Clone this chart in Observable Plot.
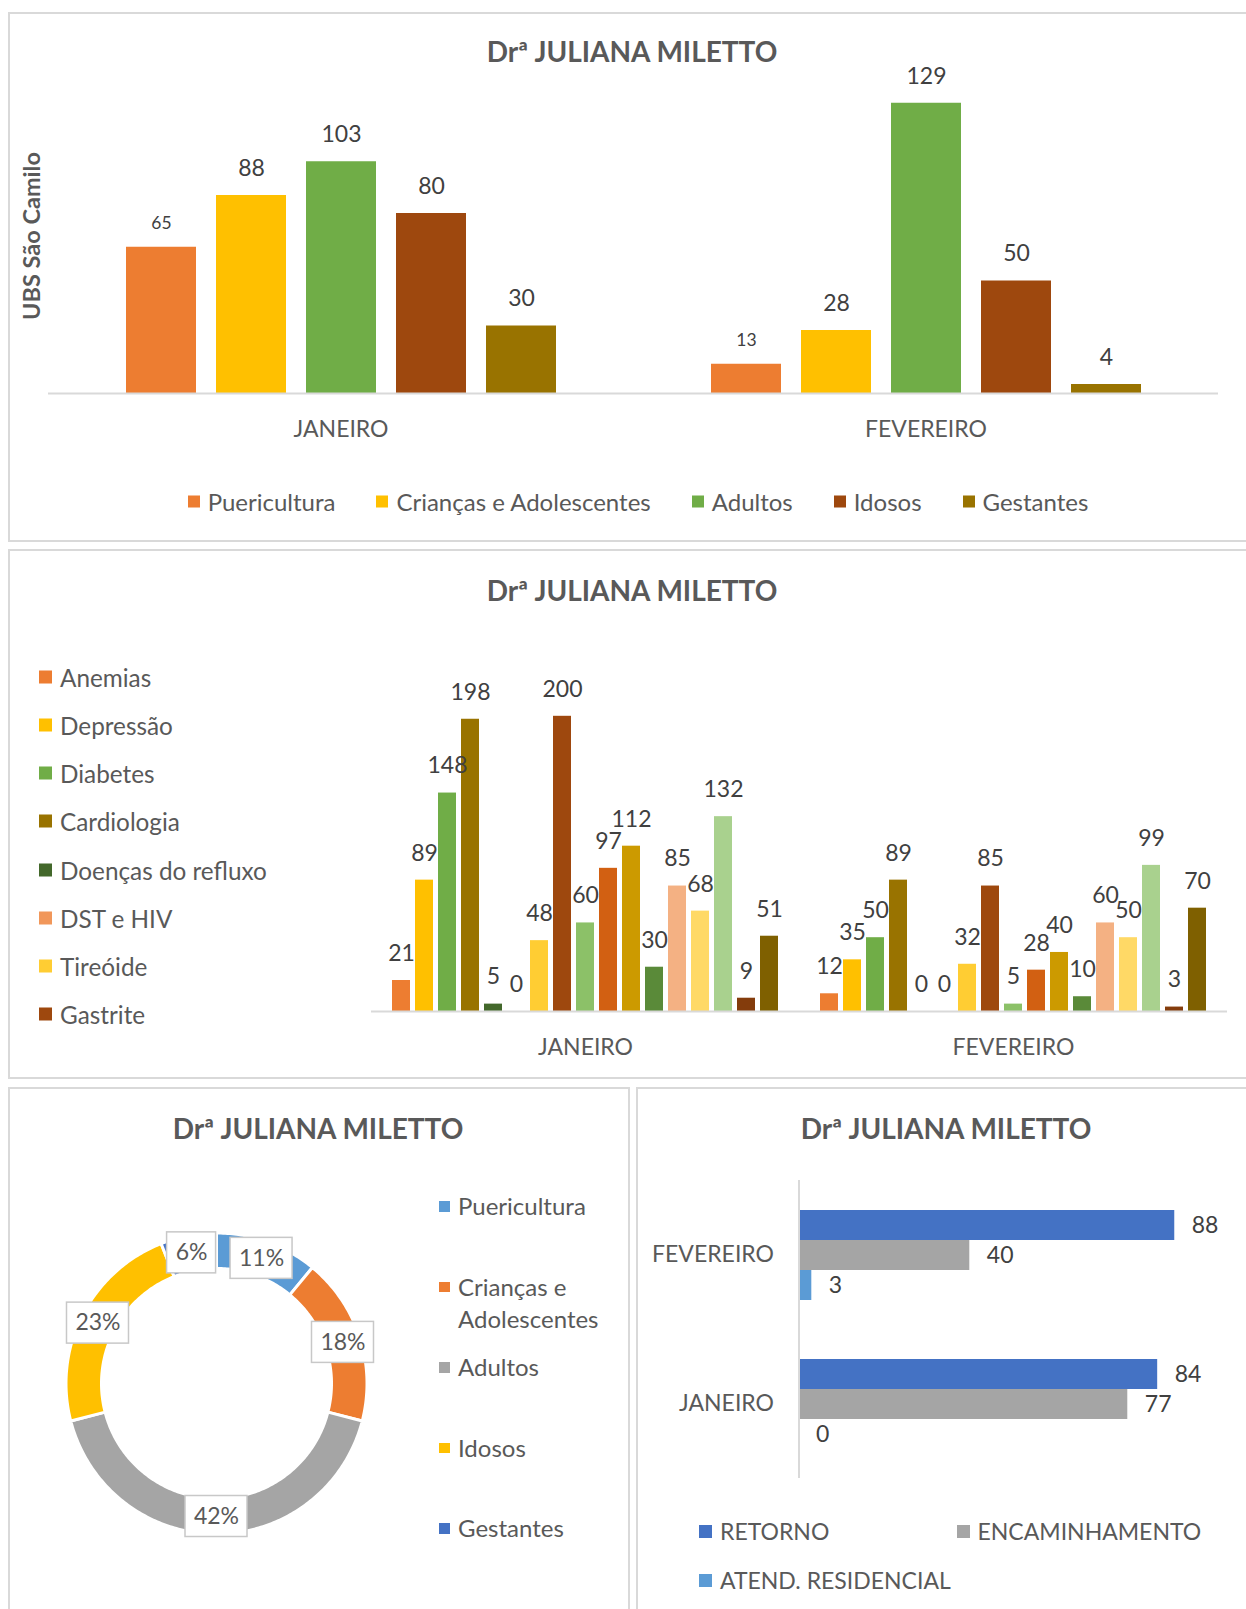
<!DOCTYPE html>
<html lang="pt-BR">
<head>
<meta charset="utf-8">
<script src="https://cdn.jsdelivr.net/npm/d3@7"></script>
<script src="https://cdn.jsdelivr.net/npm/@observablehq/plot@0.6"></script>
<style>
html,body{margin:0;padding:0;background:#fff}
#page{position:relative;width:1246px;height:1609px;overflow:hidden;font-family:Lato,"Open Sans",sans-serif;color:#595959}
.panel{position:absolute;border:2px solid #d9d9d9;box-sizing:border-box}
.title{position:absolute;font-weight:700;font-size:28px;white-space:nowrap;transform:translate(-50%,-50%);color:#595959}
.ytitle{position:absolute;font-weight:700;font-size:23.5px;white-space:nowrap;transform:translate(-50%,-50%) rotate(-90deg);color:#595959}
.lg{position:absolute;font-size:24px;white-space:nowrap;display:flex;align-items:center;transform:translateY(-50%);color:#595959}
.sw{display:inline-block;flex:none}
.plot{position:absolute}
</style>
</head>
<body>
<div id="page"></div>
<script>
// ---------------- DATA ----------------
const months = ["JANEIRO", "FEVEREIRO"];

// Chart 1: atendimentos por grupo
const groups1 = ["Puericultura", "Crianças e Adolescentes", "Adultos", "Idosos", "Gestantes"];
const jan1 = [65, 88, 103, 80, 30];
const feb1 = [13, 28, 129, 50, 4];
const colors1 = ["#ED7D31", "#FFC000", "#70AD47", "#9E480E", "#997300"];

// Chart 2: condições (legend in the original shows only the first 8 series)
const diseases = ["Anemias", "Depressão", "Diabetes", "Cardiologia", "Doenças do refluxo", "DST e HIV", "Tireóide", "Gastrite",
  "Série 9", "Série 10", "Série 11", "Série 12", "Série 13", "Série 14", "Série 15", "Série 16", "Série 17"];
const legendDiseases = diseases.slice(0, 8);
const jan2 = [21, 89, 148, 198, 5, 0, 48, 200, 60, 97, 112, 30, 85, 68, 132, 9, 51];
const feb2 = [12, 35, 50, 89, 0, 0, 32, 85, 5, 28, 40, 10, 60, 50, 99, 3, 70];
const colors2 = ["#ED7D31", "#FFC000", "#70AD47", "#997300", "#43682B", "#F1975A", "#FFCD33", "#9E480E",
  "#8CC168", "#D26012", "#CC9A00", "#5A8A39", "#F4B183", "#FFD966", "#A9D18E", "#843C0C", "#7F6000"];

// Chart 3: donut (%)
const pieNames = ["Puericultura", "Crianças e Adolescentes", "Adultos", "Idosos", "Gestantes"];
const pieValues = [11, 18, 42, 23, 6];
const pieColors = ["#5B9BD5", "#ED7D31", "#A5A5A5", "#FFC000", "#4472C4"];

// Chart 4: tipos de atendimento
const months4 = ["FEVEREIRO", "JANEIRO"];
const types4 = ["RETORNO", "ENCAMINHAMENTO", "ATEND. RESIDENCIAL"];
const jan4 = [84, 77, 0];
const feb4 = [88, 40, 3];
const colors4 = ["#4472C4", "#A5A5A5", "#5B9BD5"];

const chartTitle = "Drª JULIANA MILETTO";
const yTitle1 = "UBS São Camilo";

// ---------------- HELPERS ----------------
const page = document.getElementById("page");
function add(tag, cls, css, text) {
  const e = document.createElement(tag);
  if (cls) e.className = cls;
  Object.assign(e.style, css || {});
  if (text != null) e.textContent = text;
  page.appendChild(e);
  return e;
}
function place(svg, left, top) {
  svg.classList.add("plot");
  svg.style.left = left + "px";
  svg.style.top = top + "px";
  page.appendChild(svg);
}
function legendItem(left, top, color, label, size, fontSize) {
  const it = add("div", "lg", {left: left + "px", top: top + "px", fontSize: fontSize + "px"});
  const sw = document.createElement("span");
  sw.className = "sw";
  Object.assign(sw.style, {width: size + "px", height: size + "px", background: color, marginRight: "8px"});
  it.appendChild(sw);
  const t = document.createElement("span");
  t.textContent = label;
  it.appendChild(t);
  return it;
}
const baseStyle = {fontFamily: "Lato, sans-serif", fontSize: "23px", color: "#595959", background: "none", overflow: "visible"};

// ---------------- PANELS ----------------
add("div", "panel", {left: "8px", top: "12px", width: "1250px", height: "530px"});
add("div", "panel", {left: "8px", top: "549px", width: "1250px", height: "530px"});
add("div", "panel", {left: "8px", top: "1087px", width: "622px", height: "600px"});
add("div", "panel", {left: "636px", top: "1087px", width: "700px", height: "600px"});

// ---------------- CHART 1 ----------------
add("div", "title", {left: "632px", top: "51px"}, chartTitle);
add("div", "ytitle", {left: "31px", top: "236px"}, yTitle1);

const data1 = months.flatMap((m, mi) => groups1.map((g, i) => ({month: m, group: g, value: (mi === 0 ? jan1 : feb1)[i]})));
const chart1 = Plot.plot({
  width: 1190, height: 400,
  marginLeft: 7, marginRight: 12, marginTop: 18, marginBottom: 67,
  style: baseStyle,
  fx: {domain: months, padding: 0, axis: "bottom", tickSize: 0, tickPadding: 27, label: null},
  x: {domain: groups1, paddingInner: 0.224, paddingOuter: 0.856, axis: null},
  y: {domain: [0, 140], axis: null},
  color: {domain: groups1, range: colors1},
  marks: [
    Plot.barY(data1, {fx: "month", x: "group", y: "value", fill: "group"}),
    Plot.ruleY([0], {stroke: "#d9d9d9", strokeWidth: 2}),
    Plot.text(data1.filter(d => d.group !== groups1[0]), {fx: "month", x: "group", y: "value", text: d => String(d.value), dy: -27, fill: "#404040", fontSize: 23}),
    Plot.text(data1.filter(d => d.group === groups1[0]), {fx: "month", x: "group", y: "value", text: d => String(d.value), dy: -24, fill: "#404040", fontSize: 17.5})
  ]
});
place(chart1, 40, 60);

const lg1 = add("div", null, {position: "absolute", left: "0px", width: "1276px", top: "501px", transform: "translateY(-50%)", display: "flex", justifyContent: "center", gap: "41px", fontSize: "24px", whiteSpace: "nowrap"});
groups1.forEach((g, i) => {
  const it = document.createElement("div");
  Object.assign(it.style, {display: "flex", alignItems: "center"});
  const sw = document.createElement("span");
  Object.assign(sw.style, {display: "inline-block", width: "12px", height: "12px", background: colors1[i], marginRight: "8px"});
  const t = document.createElement("span");
  t.textContent = g;
  it.appendChild(sw); it.appendChild(t);
  lg1.appendChild(it);
});

// ---------------- CHART 2 ----------------
add("div", "title", {left: "632px", top: "590px"}, chartTitle);
legendDiseases.forEach((d, i) => legendItem(39, 676.7 + i * 48.2, colors2[i], d, 13, 24.3));

const data2 = months.flatMap((m, mi) => diseases.map((g, i) => ({month: m, group: g, value: (mi === 0 ? jan2 : feb2)[i]})));
const chart2 = Plot.plot({
  width: 880, height: 450,
  marginLeft: 10, marginRight: 13, marginTop: 22, marginBottom: 59,
  style: baseStyle,
  fx: {domain: months, padding: 0, axis: "bottom", tickSize: 0, tickPadding: 27, label: null},
  x: {domain: diseases, paddingInner: 0.215, paddingOuter: 0.8, axis: null},
  y: {domain: [0, 250], axis: null},
  color: {domain: diseases, range: colors2},
  marks: [
    Plot.barY(data2, {fx: "month", x: "group", y: "value", fill: "group"}),
    Plot.ruleY([0], {stroke: "#d9d9d9", strokeWidth: 2}),
    Plot.text(data2, {fx: "month", x: "group", y: "value", text: d => String(d.value), dy: -27, fill: "#404040", fontSize: 23})
  ]
});
place(chart2, 360, 620);

// ---------------- CHART 3 (donut) ----------------
add("div", "title", {left: "318px", top: "1128px"}, chartTitle);
const R_OUT = 150.5, R_IN = 115, R_LAB = 133;
const pieInput = pieNames.map((n, i) => ({name: n, value: pieValues[i]}));
const arcs = d3.pie().sort(null).value(d => d.value)(pieInput);
const ringPts = [];
arcs.forEach(a => {
  const n = Math.max(4, Math.ceil((a.endAngle - a.startAngle) / 0.015));
  for (let i = 0; i <= n; i++) {
    const t = a.startAngle + (a.endAngle - a.startAngle) * i / n;
    ringPts.push({name: a.data.name, x: R_OUT * Math.sin(t), y: R_OUT * Math.cos(t)});
  }
  for (let i = n; i >= 0; i--) {
    const t = a.startAngle + (a.endAngle - a.startAngle) * i / n;
    ringPts.push({name: a.data.name, x: R_IN * Math.sin(t), y: R_IN * Math.cos(t)});
  }
});
const pieLabels = arcs.map(a => {
  const m = (a.startAngle + a.endAngle) / 2;
  const text = a.data.value + "%";
  return {name: a.data.name, text, w: text.length > 2 ? 62 : 49, x: R_LAB * Math.sin(m), y: R_LAB * Math.cos(m)};
});
const chart3 = Plot.plot({
  width: 360, height: 360, margin: 0,
  style: baseStyle,
  x: {domain: [-180, 180], axis: null},
  y: {domain: [-180, 180], axis: null},
  color: {domain: pieNames, range: pieColors},
  marks: [
    Plot.line(ringPts, {x: "x", y: "y", z: "name", fill: "name", stroke: "white", strokeWidth: 3, curve: "linear-closed"}),
    Plot.rect(pieLabels, {x1: d => d.x - d.w / 2, x2: d => d.x + d.w / 2, y1: d => d.y - 20.5, y2: d => d.y + 20.5, fill: "white", stroke: "#c8c8c8", strokeWidth: 1.5}),
    Plot.text(pieLabels, {x: "x", y: "y", text: "text", fill: "#595959", fontSize: 23})
  ]
});
place(chart3, 36, 1202.5);

pieNames.forEach((n, i) => {
  const it = add("div", null, {position: "absolute", left: "439px", top: (1206 + i * 80.5 - 16) + "px", display: "flex", alignItems: "flex-start", fontSize: "24px", lineHeight: "32px"});
  const sw = document.createElement("span");
  Object.assign(sw.style, {display: "inline-block", flex: "none", width: "10.5px", height: "10.5px", background: pieColors[i], marginTop: "11px", marginRight: "8.5px"});
  const t = document.createElement("span");
  t.textContent = n;
  t.style.maxWidth = "150px";
  it.appendChild(sw); it.appendChild(t);
});

// ---------------- CHART 4 ----------------
add("div", "title", {left: "946px", top: "1128px"}, chartTitle);
const data4 = months.flatMap((m, mi) => types4.map((t, i) => ({month: m, type: t, value: (mi === 0 ? jan4 : feb4)[i]})));
const chart4 = Plot.plot({
  width: 610, height: 320,
  marginLeft: 168.5, marginRight: 14.5, marginTop: 10, marginBottom: 12,
  style: baseStyle,
  fy: {domain: months4, padding: 0, axis: "left", tickSize: 0, tickPadding: 25, label: null},
  y: {domain: types4, paddingInner: 0, paddingOuter: 0.93, axis: null},
  x: {domain: [0, 100], axis: null},
  color: {domain: types4, range: colors4},
  marks: [
    Plot.barX(data4, {fy: "month", y: "type", x: "value", fill: "type"}),
    Plot.ruleX([0], {stroke: "#d9d9d9", strokeWidth: 2}),
    Plot.text(data4, {fy: "month", y: "type", x: "value", text: d => String(d.value), dx: 17, textAnchor: "start", fill: "#404040", fontSize: 23})
  ]
});
place(chart4, 630, 1170);

legendItem(699, 1531, colors4[0], types4[0], 13, 23);
legendItem(956.5, 1531, colors4[1], types4[1], 13, 23);
legendItem(699, 1580, colors4[2], types4[2], 13, 23);
</script>
</body>
</html>
